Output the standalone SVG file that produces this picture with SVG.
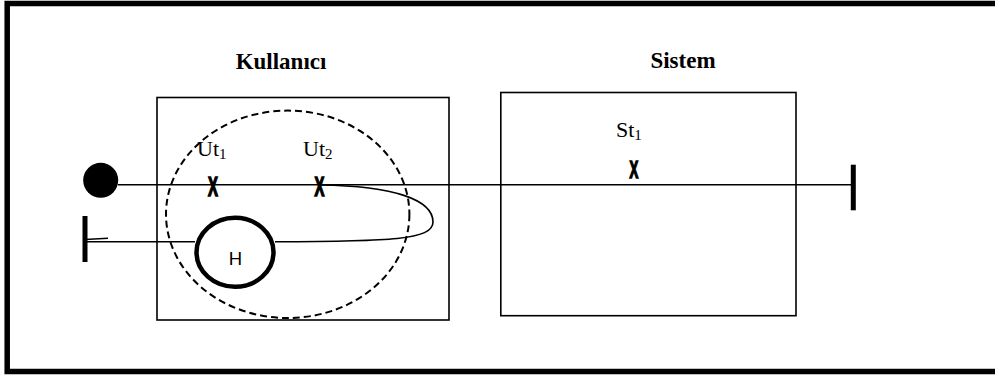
<svg xmlns="http://www.w3.org/2000/svg" width="995" height="376" viewBox="0 0 995 376">
<style>
.title{font-family:"Liberation Serif",serif;font-weight:bold;font-size:23px;text-anchor:middle;fill:#000}
.lbl{font-family:"Liberation Serif",serif;font-size:22px;fill:#000}
.sub{font-size:15px}
.x{font-family:"Liberation Sans",sans-serif;font-weight:bold;text-anchor:middle;fill:#000;stroke:#000;stroke-width:1.6}
.box{fill:none;stroke:#000;stroke-width:1.6}
.ln{fill:none;stroke:#000;stroke-width:1.6}
.bar{fill:none;stroke:#000;stroke-width:5}
</style>
<rect x="0" y="0" width="995" height="376" fill="#fff"/>
<rect id="frame" x="7.2" y="3.5" width="1000" height="368" fill="none" stroke="#000" stroke-width="5.5"/>
<g id="kullanici">
<text class="title" x="281" y="69">Kullanıcı</text>
<rect class="box" x="157" y="97.5" width="292" height="222.5"/>
</g>
<g id="sistem">
<text class="title" x="683" y="68">Sistem</text>
<rect class="box" x="500.8" y="92.5" width="295.2" height="223.2"/>
</g>
<g id="scope">
<ellipse cx="287.7" cy="214.3" rx="121.7" ry="103.7" fill="none" stroke="#000" stroke-width="2" stroke-dasharray="7,4"/>
</g>
<g id="connectors">
<line class="ln" x1="118" y1="184.8" x2="852" y2="184.8"/>
<path class="ln" d="M320,185 C395,186 433,200 433,222 C433,240 390,241.5 275,241.8"/>
<line class="ln" x1="195" y1="241.8" x2="85" y2="241.8"/>
<path class="ln" d="M85,239.5 L108,238.2"/>
</g>
<g id="start">
<circle cx="100.7" cy="180.3" r="17.5" fill="#000"/>
</g>
<g id="end-left">
<line class="bar" x1="85" y1="216" x2="85" y2="262"/>
</g>
<g id="end-right">
<line class="bar" x1="853.3" y1="164.7" x2="853.3" y2="210.3"/>
</g>
<g id="ut1">
<text class="lbl" x="197" y="156">Ut<tspan class="sub" dy="3">1</tspan></text>
<text class="x" transform="translate(213,195.5) scale(0.55,1)" font-size="27">X</text>
</g>
<g id="ut2">
<text class="lbl" x="303" y="156">Ut<tspan class="sub" dy="3">2</tspan></text>
<text class="x" transform="translate(319.5,195.5) scale(0.55,1)" font-size="27">X</text>
</g>
<g id="st1">
<text class="lbl" x="616" y="137">St<tspan class="sub" dy="3">1</tspan></text>
<text class="x" transform="translate(634,177.5) scale(0.55,1)" font-size="24">X</text>
</g>
<g id="h">
<ellipse cx="235" cy="252.3" rx="38.5" ry="34.5" fill="none" stroke="#000" stroke-width="4.5"/>
<text x="235.5" y="265" font-family="Liberation Sans, sans-serif" font-size="18.5" text-anchor="middle">H</text>
</g>
</svg>
